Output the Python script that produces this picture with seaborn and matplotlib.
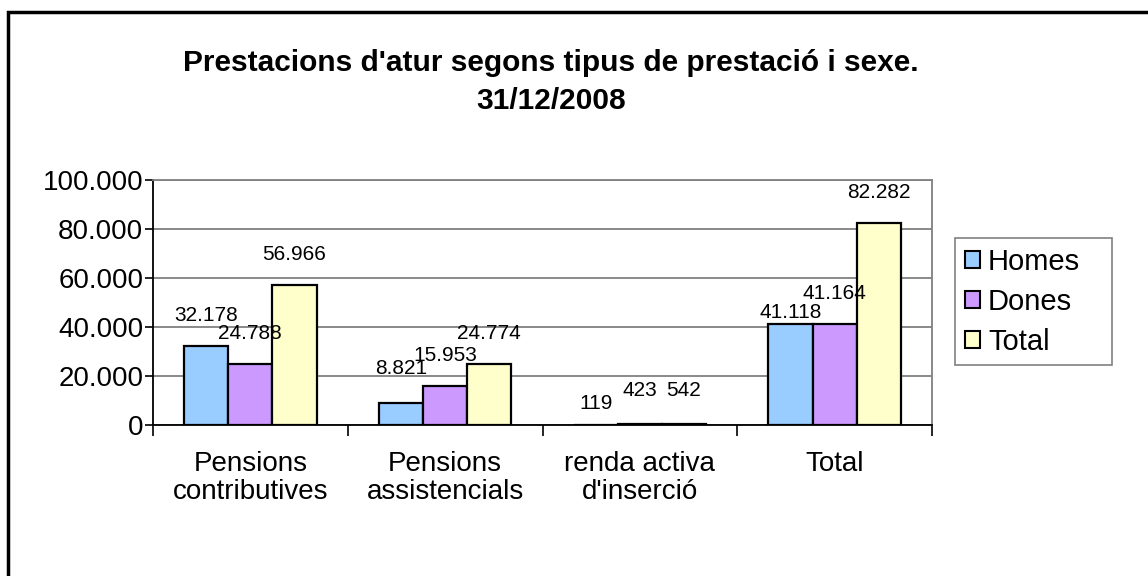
import pandas as pd
import numpy as np
import matplotlib
matplotlib.use("Agg")
import matplotlib.pyplot as plt
import seaborn as sns
from matplotlib.patches import Rectangle, Patch
from matplotlib.ticker import FuncFormatter, FixedLocator

# Dades
categories = ["Pensions\ncontributives", "Pensions\nassistencials",
              "renda activa\nd'inserció", "Total"]
series = ["Homes", "Dones", "Total"]
homes = [32178, 8821, 119, 41118]
dones = [24788, 15953, 423, 41164]
total = [56966, 24774, 542, 82282]
title = "Prestacions d'atur segons tipus de prestació i sexe.\n31/12/2008"

COLORS = {"Homes": "#99CCFF", "Dones": "#CC99FF", "Total": "#FFFFCC"}

df = pd.DataFrame({
    "categoria": categories * 3,
    "serie": ["Homes"] * 4 + ["Dones"] * 4 + ["Total"] * 4,
    "valor": homes + dones + total,
})

plt.rcParams["font.family"] = ["Liberation Sans", "DejaVu Sans"]

W, H = 1148, 576
fig = plt.figure(figsize=(W / 100, H / 100), dpi=100)
ax = fig.add_axes([153 / W, 1 - 425 / H, (932 - 153) / W, 245 / H])

sns.barplot(data=df, x="categoria", y="valor", hue="serie", order=categories,
            hue_order=series, palette=COLORS, width=0.68, gap=0,
            edgecolor="black", linewidth=1.6, saturation=1, ax=ax, legend=False)

# etiquetes de valor (desplaçament vertical en px)
offsets = {41118: 2, 119: 12, 423: 24, 542: 24, 8821: 25}
for cont in ax.containers:
    for bar in cont:
        v = bar.get_height()
        off = offsets.get(int(round(v)), 21) * 0.72
        ax.annotate(f"{int(round(v)):,}".replace(",", "."),
                    (bar.get_x() + bar.get_width() / 2, v),
                    xytext=(0, off), textcoords="offset points",
                    ha="center", va="bottom", fontsize=15)

ax.set_ylim(0, 100000)
ax.set_xlim(-0.5, 3.5)
ax.set_yticks(np.arange(0, 100001, 20000))
ax.yaxis.set_major_formatter(FuncFormatter(lambda v, p: f"{int(v):,}".replace(",", ".")))
ax.tick_params(axis="y", labelsize=20, length=6, width=1.2, direction="out", pad=1)
ax.tick_params(axis="x", which="major", labelsize=20, length=0, pad=19)
for lab in ax.get_xticklabels():
    lab.set_linespacing(1.1)
ax.xaxis.set_minor_locator(FixedLocator(np.arange(-0.5, 3.6, 1)))
ax.tick_params(axis="x", which="minor", length=8, width=1.2, direction="out")
ax.grid(axis="y", color="#808080", linewidth=1.3)
ax.set_axisbelow(True)
ax.set_xlabel("")
ax.set_ylabel("")
for s in ["top", "right"]:
    ax.spines[s].set_color("#808080")
    ax.spines[s].set_linewidth(1.3)
for s in ["left", "bottom"]:
    ax.spines[s].set_color("black")
    ax.spines[s].set_linewidth(1.3)

# llegenda amb marc propi
fig.add_artist(Rectangle((955 / W, 1 - 365 / H), 157 / W, 127 / H,
                         transform=fig.transFigure, facecolor="white",
                         edgecolor="#808080", linewidth=1.2))
handles = [Patch(facecolor=COLORS[s], edgecolor="black", linewidth=1.5, label=s) for s in series]
leg = fig.legend(handles=handles, loc="upper left", bbox_to_anchor=(955 / W, 1 - 238 / H),
                 fontsize=21, frameon=False, borderaxespad=0,
                 handlelength=0.52, handleheight=0.52, handletextpad=0.28,
                 labelspacing=0.42, borderpad=0.33)

fig.text(551 / W, 1 - 82 / H, title, ha="center", va="center",
         fontsize=21.5, fontweight="bold", linespacing=1.45)

fig.add_artist(Rectangle((8 / W, -0.1), 1.2, (H - 12) / H + 0.1,
                         transform=fig.transFigure, fill=False,
                         edgecolor="black", linewidth=2.5))

plt.savefig("out.png", dpi=100)
